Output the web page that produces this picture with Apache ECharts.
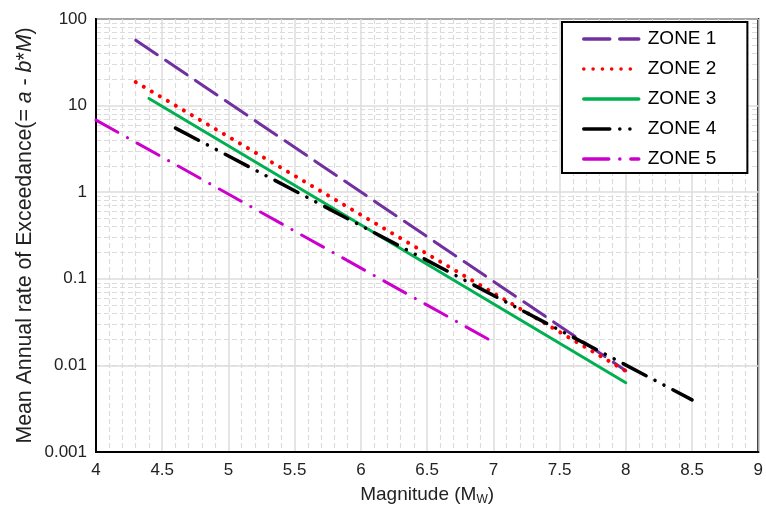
<!DOCTYPE html>
<html>
<head>
<meta charset="utf-8">
<script src="https://cdn.jsdelivr.net/npm/echarts@6/dist/echarts.min.js"></script>
<style>html,body{margin:0;padding:0;background:#fff}#c{width:766px;height:511px}</style>
</head>
<body>
<div id="c"></div>
<script>
// Zone names
var zoneNames = ['ZONE 1', 'ZONE 2', 'ZONE 3', 'ZONE 4', 'ZONE 5'];
// Endpoints [magnitude, rate]
var zone1 = [[4.3, 57], [8.0, 0.0087]];
var zone2 = [[4.3, 18.7], [8.0, 0.0086]];
var zone3 = [[4.4, 12.1], [8.0, 0.0063]];
var zone4 = [[4.6, 5.5], [8.5, 0.004]];
var zone5 = [[4.0, 6.8], [7.0, 0.0186]];
// Axis ranges and minor gridline values
var xMin = 4, xMax = 9, xStep = 0.5;
var yMin = 0.001, yMax = 100;
var minorFactors = [2, 3, 4, 5, 6, 7, 8, 9];
var decades = [0.001, 0.01, 0.1, 1, 10];

var minorY = [];
decades.forEach(function (d) { minorFactors.forEach(function (f) { minorY.push({ yAxis: +(d * f).toPrecision(3) }); }); });

var font = 'Liberation Sans, Arial, sans-serif';
var chart = echarts.init(document.getElementById('c'), null, { renderer: 'canvas' });

function lineSeries(name, data, color, width, dash) {
  return {
    name: name, type: 'line', data: data, symbol: 'none', showSymbol: false, silent: true, z: 3,
    lineStyle: { color: color, width: width, type: dash, cap: 'round' },
    itemStyle: { color: color }
  };
}

chart.setOption({
  animation: false,
  backgroundColor: '#fff',
  grid: { left: 96, right: 4, top: 19, bottom: 59, show: true, borderColor: '#000', borderWidth: 2, backgroundColor: 'transparent' },
  legend: {
    orient: 'vertical', left: 562, top: 22, z: 20,
    backgroundColor: '#fff', borderColor: '#000', borderWidth: 2, borderRadius: 0,
    padding: [7, 31, 4, 20], itemGap: 10, itemWidth: 55, itemHeight: 14,
    itemStyle: { opacity: 0 },
    lineStyle: { width: 3.5, cap: 'round' },
    textStyle: { fontFamily: font, fontSize: 19, lineHeight: 20, color: '#000', padding: [0, 0, 0, 4] },
    data: zoneNames
  },
  xAxis: {
    type: 'value', min: xMin, max: xMax, interval: xStep,
    name: '{a|Magnitude (M}{s|W}{a|)}', nameLocation: 'middle', nameGap: 32,
    nameTextStyle: { rich: { a: { fontFamily: font, fontSize: 19, color: '#222' }, s: { fontFamily: font, fontSize: 12, color: '#222', padding: [10, 0, 0, 0] } } },
    axisLine: { lineStyle: { color: '#000', width: 2 } },
    axisTick: { show: false },
    axisLabel: { fontFamily: font, fontSize: 17, color: '#222', margin: 10 },
    splitLine: { show: true, lineStyle: { color: '#dcdcdc', width: 1.5 } },
    minorTick: { show: false, splitNumber: 5 },
    minorSplitLine: { show: true, lineStyle: { color: '#dcdcdc', width: 1.2, type: [5, 3] } }
  },
  yAxis: {
    type: 'log', logBase: 10, min: yMin, max: yMax,
    name: '{n|Mean Annual rate of Exceedance(= }{i|a}{n| - }{i|b}{n|*}{i|M}{n|)}',
    nameLocation: 'middle', nameGap: 60, nameRotate: 90, nameMoveOverlap: false,
    nameTextStyle: { rich: { n: { fontFamily: font, fontSize: 21.3, color: '#222' }, i: { fontFamily: font, fontSize: 21.3, color: '#222', fontStyle: 'italic' } } },
    axisLine: { lineStyle: { color: '#000', width: 2 } },
    axisTick: { show: false },
    axisLabel: { fontFamily: font, fontSize: 17, color: '#222', margin: 9, formatter: function (v) { return String(+v.toPrecision(3)); } },
    splitLine: { show: true, lineStyle: { color: '#dcdcdc', width: 1.5 } }
  },
  series: [
    {
      type: 'line', data: [], silent: true, z: 0,
      markLine: { silent: true, z: 0, symbol: 'none', label: { show: false }, lineStyle: { color: '#dcdcdc', width: 1.2, type: [5, 3] }, data: minorY }
    },
    lineSeries(zoneNames[0], zone1, '#7030A0', 3, [26, 10]),
    lineSeries(zoneNames[1], zone2, '#FF0000', 4, [0.1, 9.2]),
    lineSeries(zoneNames[2], zone3, '#00B050', 3, 'solid'),
    lineSeries(zoneNames[3], zone4, '#000000', 3.5, [26, 10, 0.1, 10, 0.1, 10]),
    lineSeries(zoneNames[4], zone5, '#CC00CC', 3, [25, 11, 0.1, 11])
  ]
});
</script>
</body>
</html>
